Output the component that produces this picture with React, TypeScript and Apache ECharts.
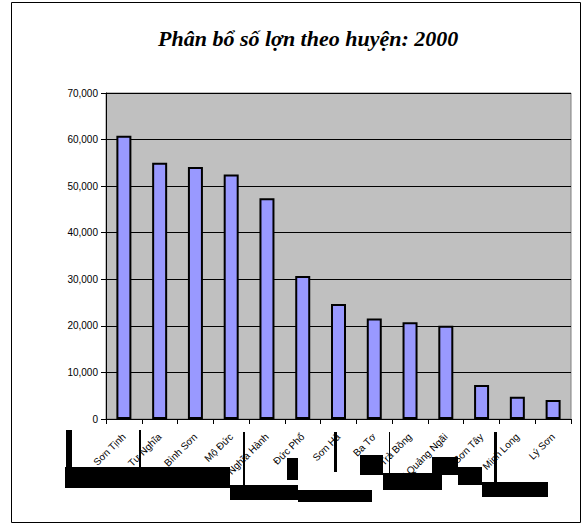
import React, { useEffect, useRef } from "react";
import * as echarts from "echarts";

const districts = [
  "Sơn Tịnh",
  "Tư Nghĩa",
  "Bình Sơn",
  "Mộ Đức",
  "Nghĩa Hành",
  "Đức Phổ",
  "Sơn Hà",
  "Ba Tơ",
  "Trà Bồng",
  "TX Quảng Ngãi",
  "Sơn Tây",
  "Minh Long",
  "Lý Sơn",
];
const pigCounts = [60800, 55000, 54100, 52500, 47400, 30700, 24700, 21600, 20800, 20000, 7300, 4800, 4100];
const titleText = "Phân bổ số lợn theo huyện: 2000";

export default function App() {
  const ref = useRef<HTMLDivElement>(null);
  useEffect(() => {
    if (!ref.current) return;
    const chart = echarts.init(ref.current, null, { renderer: "svg" });
    const blk = (x: number, y: number, w: number, h: number) => ({
      type: "rect",
      z: 0,
      shape: { x, y, width: w, height: h },
      style: { fill: "#000" },
      silent: true,
    });
    chart.setOption({
      animation: false,
      backgroundColor: "#fff",
      title: {
        text: titleText,
        left: 153,
        top: 22,
        textStyle: {
          fontFamily: "Liberation Serif",
          fontStyle: "italic",
          fontWeight: "bold",
          fontSize: 22,
          color: "#000",
        },
      },
      grid: {
        left: 106,
        right: 15,
        top: 93,
        bottom: 105,
        show: true,
        backgroundColor: "#C0C0C0",
        borderColor: "#808080",
        borderWidth: 1,
      },
      xAxis: {
        type: "category",
        data: districts,
        axisLine: { lineStyle: { color: "#000", width: 1 } },
        axisTick: { show: true, length: 5, inside: false, lineStyle: { color: "#000" } },
        axisLabel: {
          rotate: 45,
          interval: 0,
          margin: 16,
          fontFamily: "Liberation Sans",
          fontSize: 10,
          color: "#000",
        },
      },
      yAxis: {
        type: "value",
        min: 0,
        max: 70000,
        interval: 10000,
        axisLine: { show: true, lineStyle: { color: "#000", width: 1 } },
        axisTick: { show: true, length: 5, lineStyle: { color: "#000" } },
        splitLine: { show: true, lineStyle: { color: "#000", width: 1 } },
        axisLabel: {
          margin: 8,
          fontFamily: "Liberation Sans",
          fontSize: 10,
          color: "#000",
          formatter: (v: number) => v.toLocaleString("en-US"),
        },
      },
      series: [
        {
          type: "bar",
          data: pigCounts,
          barWidth: 15,
          itemStyle: { color: "#9999FF", borderColor: "#000", borderWidth: 2 },
        },
      ],
      graphic: [
        {
          type: "rect",
          z: 0,
          shape: { x: 11.5, y: 2.5, width: 569, height: 520 },
          style: { fill: "none", stroke: "#000", lineWidth: 1 },
          silent: true,
        },
        blk(66, 430, 6, 40),
        blk(139, 430, 2, 40),
        blk(243, 432, 2, 55),
        blk(334, 432, 3, 40),
        blk(389, 432, 1, 41),
        blk(494, 432, 3, 50),
        blk(65, 467, 165, 21),
        blk(230, 485, 68, 15),
        blk(287, 458, 11, 22),
        blk(290, 485, 7, 15),
        blk(298, 490, 74, 12),
        blk(360, 455, 23, 20),
        blk(383, 473, 59, 17),
        blk(432, 457, 26, 18),
        blk(458, 467, 24, 18),
        blk(482, 482, 66, 15),
      ],
    });
    return () => chart.dispose();
  }, []);
  return (
    <div
      ref={ref}
      style={{ position: "fixed", left: 0, top: 0, width: 586, height: 524, background: "#fff" }}
    />
  );
}
